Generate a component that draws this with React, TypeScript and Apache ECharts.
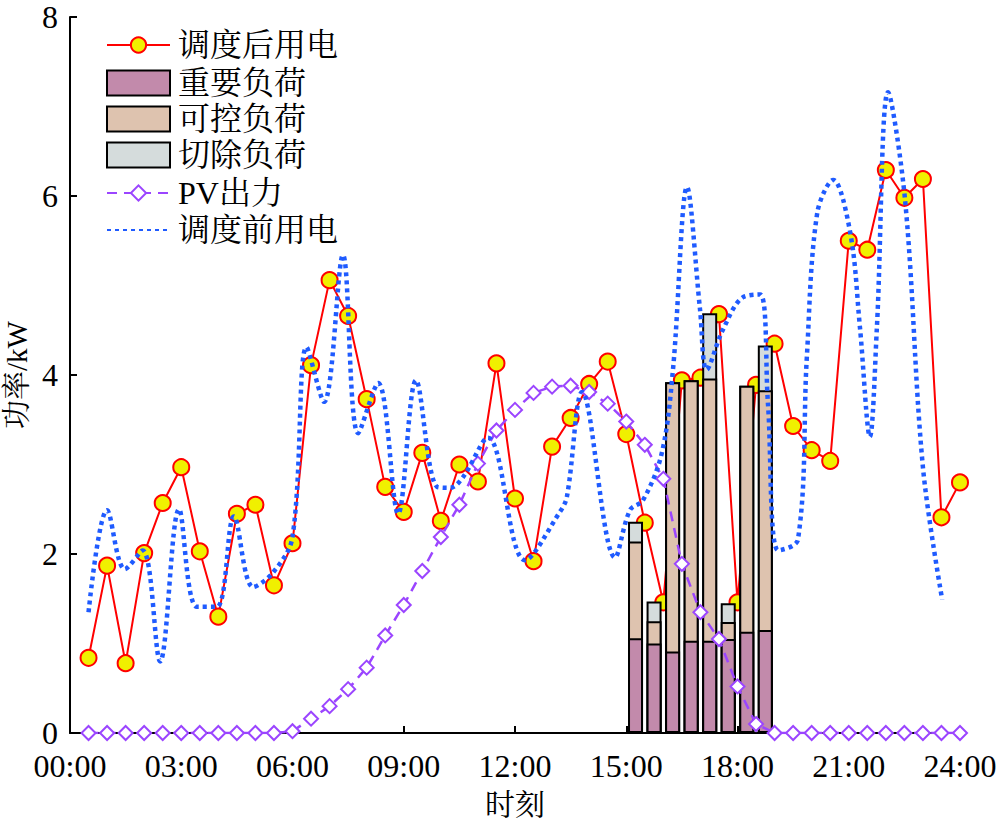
import React, { useEffect, useRef } from 'react';
import * as echarts from 'echarts';

// time of each half-hour sample (h)
const times = [
  0.5, 1, 1.5, 2, 2.5, 3, 3.5, 4, 4.5, 5, 5.5, 6,
  6.5, 7, 7.5, 8, 8.5, 9, 9.5, 10, 10.5, 11, 11.5, 12,
  12.5, 13, 13.5, 14, 14.5, 15, 15.5, 16, 16.5, 17, 17.5, 18,
  18.5, 19, 19.5, 20, 20.5, 21, 21.5, 22, 22.5, 23, 23.5, 24,
];

// 调度后用电 (kW)
const afterDispatch = [
  0.84, 1.87, 0.78, 2.01, 2.57, 2.97, 2.03, 1.3, 2.45, 2.55, 1.65, 2.12,
  4.11, 5.06, 4.66, 3.73, 2.75, 2.47, 3.13, 2.37, 3.0, 2.81, 4.13, 2.62,
  1.92, 3.2, 3.52, 3.9, 4.15, 3.34, 2.35, 1.46, 3.94, 3.97, 4.68, 1.46,
  3.89, 4.35, 3.43, 3.16, 3.04, 5.5, 5.4, 6.29, 5.98, 6.19, 2.41, 2.8,
];

// PV出力 (kW)
const pvOutput = [
  0, 0, 0, 0, 0, 0, 0, 0, 0, 0, 0, 0.02,
  0.16, 0.3, 0.49, 0.73, 1.09, 1.43, 1.81, 2.19, 2.55, 3.01, 3.38, 3.61,
  3.8, 3.87, 3.88, 3.81, 3.68, 3.48, 3.22, 2.84, 1.89, 1.35, 1.05, 0.52,
  0.1, 0, 0, 0, 0, 0, 0, 0, 0, 0, 0, 0,
];

// 调度前用电: [time (h), kW]
const beforeTimes = [
  0.5, 1.0, 1.48, 1.96, 2.43, 2.94, 3.42, 3.96, 4.42, 4.94, 5.47, 6.0,
  6.38, 6.85, 7.36, 7.77, 8.31, 8.85, 9.33, 9.9, 10.25, 10.6, 11.27, 12.27,
  13.21, 13.4, 13.81, 14.7, 15.1, 15.45, 15.96, 16.26, 16.64, 16.99, 17.17, 17.6,
  18.15, 18.61, 18.82, 19.1, 19.63, 19.87, 20.15, 20.58, 21.04, 21.3, 21.57, 21.76,
  22.06, 22.52, 23.0, 23.52,
];
const beforeDispatch = [
  1.35, 2.49, 1.83, 2.04, 0.8, 2.5, 1.41, 1.41, 2.42, 1.63, 1.79, 2.19,
  4.31, 3.7, 5.34, 3.35, 3.91, 2.45, 3.94, 2.75, 2.74, 2.86, 3.3, 1.93,
  2.47, 2.64, 3.81, 1.96, 2.49, 2.6, 3.13, 4.06, 6.1, 4.73, 4.06, 4.5,
  4.87, 4.9, 3.69, 2.04, 2.16, 4.2, 5.81, 6.18, 5.59, 4.54, 3.31, 4.54,
  7.16, 5.95, 2.97, 1.49,
];

// load composition of the half-hour slots 15:00-19:00 (slot centres, h)
const barTimes = [15.25, 15.75, 16.25, 16.75, 17.25, 17.75, 18.25, 18.75];
const importantLoad = [1.06, 1.0, 0.91, 1.03, 1.03, 1.05, 1.13, 1.15];
const controllableLoad = [1.08, 0.25, 3.01, 2.91, 2.93, 0.19, 2.75, 2.68];
const curtailedLoad = [0.22, 0.22, 0, 0, 0.73, 0.21, 0, 0.5];

const xTickLabels = ['00:00', '03:00', '06:00', '09:00', '12:00', '15:00', '18:00', '21:00', '24:00'];
const yTickLabels = ['0', '2', '4', '6', '8'];

const FONT = "'Liberation Serif', 'Times New Roman', 'Noto Serif CJK SC', 'Noto Sans CJK SC', serif";

export default function App() {
  const ref = useRef<HTMLDivElement>(null);

  useEffect(() => {
    if (!ref.current) return;
    const chart = echarts.init(ref.current, undefined, { renderer: 'svg' });

    const line = (xs: number[], ys: number[]) => xs.map((x, i) => [x, ys[i]]);
    const impData = barTimes.map((t, i) => [t, importantLoad[i]]);
    const ctrlData = barTimes.map((t, i) => [t, importantLoad[i] + controllableLoad[i]]);
    const cutData = barTimes.map((t, i) => [t, importantLoad[i] + controllableLoad[i] + curtailedLoad[i]]);

    const barCommon = {
      type: 'bar',
      barWidth: 15,
      barGap: '-100%',
      z: 2,
    };

    const legendText = { fontSize: 32, color: '#000', fontFamily: FONT, padding: [0, 0, 0, 3] };

    chart.setOption({
      animation: false,
      textStyle: { fontFamily: FONT },
      grid: { left: 70, right: 40, top: 17, bottom: 88, containLabel: false, outerBoundsMode: 'none' },
      legend: [
        {
          orient: 'vertical', left: 106, top: 29, padding: 0, itemWidth: 63, itemHeight: 19,
          selectedMode: false, data: ['调度后用电'], textStyle: legendText,
        },
        {
          orient: 'vertical', left: 106, top: 67, padding: 0, itemWidth: 63, itemHeight: 25, itemGap: 4,
          icon: 'rect', selectedMode: false, data: ['重要负荷', '可控负荷', '切除负荷'], textStyle: legendText,
        },
        {
          orient: 'vertical', left: 106, top: 177, padding: 0, itemWidth: 63, itemHeight: 19, itemGap: 5,
          selectedMode: false,
          data: [{ name: 'PV出力' }, { name: '调度前用电', itemStyle: { opacity: 0 } }],
          textStyle: legendText,
        },
      ],
      xAxis: {
        type: 'value',
        min: 0,
        max: 24,
        interval: 3,
        name: '时刻',
        nameLocation: 'middle',
        nameGap: 56,
        nameTextStyle: { fontSize: 30, color: '#000', fontFamily: FONT },
        axisLine: { show: true, lineStyle: { color: '#000', width: 2 } },
        axisTick: { show: true, inside: true, length: 7, lineStyle: { color: '#000', width: 2 } },
        axisLabel: {
          fontSize: 32, color: '#000', margin: 17, fontFamily: FONT,
          formatter: (v: number) => xTickLabels[Math.round(v / 3)] ?? '',
        },
        splitLine: { show: false },
      },
      yAxis: {
        type: 'value',
        min: 0,
        max: 8,
        interval: 2,
        name: '功率/kW',
        nameLocation: 'middle',
        nameGap: 30,
        nameTextStyle: { fontSize: 29, color: '#000', fontFamily: FONT },
        axisLine: { show: true, lineStyle: { color: '#000', width: 2 } },
        axisTick: { show: true, inside: true, length: 7, lineStyle: { color: '#000', width: 2 } },
        axisLabel: {
          fontSize: 32, color: '#000', margin: 12, fontFamily: FONT,
          formatter: (v: number) => yTickLabels[Math.round(v / 2)] ?? '',
        },
        splitLine: { show: false },
      },
      series: [
        {
          name: '调度后用电',
          type: 'line',
          z: 1,
          data: line(times, afterDispatch),
          symbol: 'circle',
          symbolSize: 16,
          lineStyle: { color: '#FF0000', width: 2 },
          itemStyle: { color: '#F0F000', borderColor: '#FF0000', borderWidth: 2 },
        },
        {
          ...barCommon,
          name: '切除负荷',
          data: cutData,
          itemStyle: { color: '#D5DCDC', borderColor: '#000', borderWidth: 2 },
        },
        {
          ...barCommon,
          name: '可控负荷',
          data: ctrlData,
          itemStyle: { color: '#DEC3AF', borderColor: '#000', borderWidth: 2 },
        },
        {
          ...barCommon,
          name: '重要负荷',
          data: impData,
          itemStyle: { color: '#C28AAB', borderColor: '#000', borderWidth: 2 },
        },
        {
          name: 'PV出力',
          type: 'line',
          z: 3,
          data: line(times, pvOutput),
          symbol: 'emptyDiamond',
          symbolSize: 14,
          lineStyle: { color: '#9B45FF', width: 2.5, type: [10, 7] },
          itemStyle: { color: '#9B45FF', borderWidth: 2.5 },
        },
        {
          name: '调度前用电',
          type: 'line',
          z: 4,
          data: line(beforeTimes, beforeDispatch),
          smooth: 0.35,
          symbol: 'circle',
          showSymbol: false,
          lineStyle: { color: '#1F5BFF', width: 4.5, type: [4, 4] },
          itemStyle: { color: '#1F5BFF' },
        },
      ],
    });

    return () => chart.dispose();
  }, []);

  return (
    <div
      ref={ref}
      style={{ position: 'fixed', left: 0, top: 0, width: 1000, height: 821, background: '#fff' }}
    />
  );
}
